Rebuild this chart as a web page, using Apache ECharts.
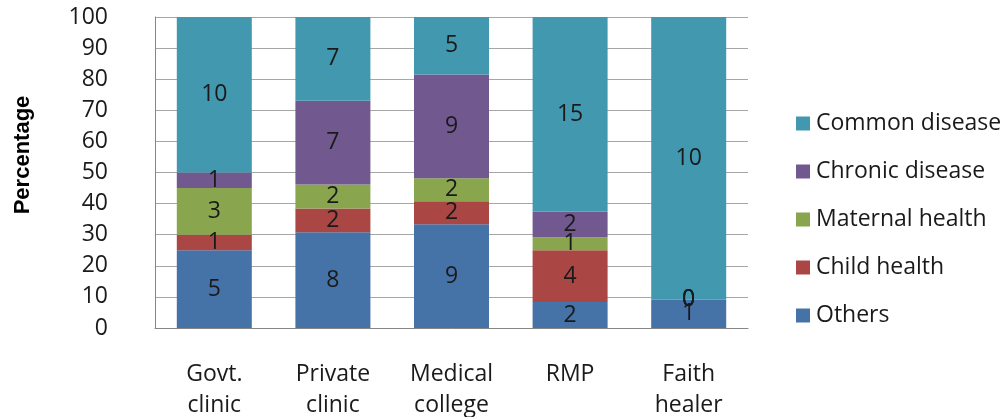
<!DOCTYPE html>
<html>
<head>
    <meta charset="utf-8" />
    <title>Percentage by source</title>
    <script src="https://cdn.jsdelivr.net/npm/echarts@6/dist/echarts.min.js"></script>
    <style>
        html, body { margin: 0; padding: 0; background: #fff; }
        #main { width: 1008px; height: 417px; }
    </style>
</head>
<body>
<div id="main"></div>
<script type="text/javascript">
    // categories and counts
    var categories = ['Govt.\nclinic', 'Private\nclinic', 'Medical\ncollege', 'RMP', 'Faith\nhealer'];
    var others   = [5, 8, 9, 2, 1];
    var child    = [1, 2, 2, 4, 0];
    var maternal = [3, 2, 2, 1, 0];
    var chronic  = [1, 7, 9, 2, 0];
    var common   = [10, 7, 5, 15, 10];
    var yTicks = [0, 10, 20, 30, 40, 50, 60, 70, 80, 90, 100];

    var groups = [
        {name: 'Others', data: others, color: '#4572A7'},
        {name: 'Child health', data: child, color: '#AA4643'},
        {name: 'Maternal health', data: maternal, color: '#89A54E'},
        {name: 'Chronic disease', data: chronic, color: '#71588F'},
        {name: 'Common disease', data: common, color: '#4198AF'}
    ];

    // totals per category -> stacked to 100%
    var totals = categories.map(function (c, i) {
        var t = 0;
        groups.forEach(function (g) { t += g.data[i]; });
        return t;
    });

    var series = groups.map(function (g) {
        return {
            name: g.name,
            type: 'bar',
            stack: 'all',
            barWidth: 75,
            itemStyle: {color: g.color},
            label: {
                show: true,
                position: 'inside',
                color: '#1a1a1a',
                fontSize: 23,
                fontFamily: 'Open Sans',
                formatter: function (p) { return g.data[p.dataIndex]; }
            },
            data: g.data.map(function (v, i) { return v / totals[i] * 100; })
        };
    });

    var option = {
        backgroundColor: '#FFFFFF',
        animation: false,
        grid: {left: 155, right: 260, top: 17, bottom: 89, outerBoundsMode: 'none', containLabel: false},
        legend: {
            orient: 'vertical',
            left: 791,
            top: 107,
            itemGap: 25,
            itemWidth: 14,
            itemHeight: 14,
            icon: 'rect',
            // top-down order as in the picture
            data: ['Common disease', 'Chronic disease', 'Maternal health', 'Child health', 'Others'],
            textStyle: {fontSize: 23, color: '#1a1a1a', fontFamily: 'Open Sans', padding: [0, 0, 0, 1]}
        },
        graphic: [{
            type: 'text',
            x: 23,
            y: 155,
            rotation: Math.PI / 2,
            style: {
                text: 'Percentage',
                fontSize: 22,
                fontWeight: 'bold',
                fontFamily: 'Liberation Sans',
                fill: '#000',
                align: 'center',
                verticalAlign: 'middle'
            }
        }],
        xAxis: {
            type: 'category',
            data: categories,
            axisTick: {show: false},
            axisLine: {lineStyle: {color: '#868686'}},
            axisLabel: {
                margin: 31,
                fontSize: 23,
                lineHeight: 31,
                color: '#1a1a1a',
                fontFamily: 'Open Sans'
            }
        },
        yAxis: {
            type: 'value',
            min: yTicks[0],
            max: yTicks[yTicks.length - 1],
            interval: 10,
            axisLine: {show: true, lineStyle: {color: '#868686'}},
            axisTick: {show: false},
            splitLine: {lineStyle: {color: '#a6a6a6'}},
            axisLabel: {
                margin: 47,
                fontSize: 23,
                color: '#1a1a1a',
                fontFamily: 'Open Sans'
            }
        },
        series: series
    };

    var myChart = echarts.init(document.getElementById('main'));
    myChart.setOption(option);
</script>
</body>
</html>
